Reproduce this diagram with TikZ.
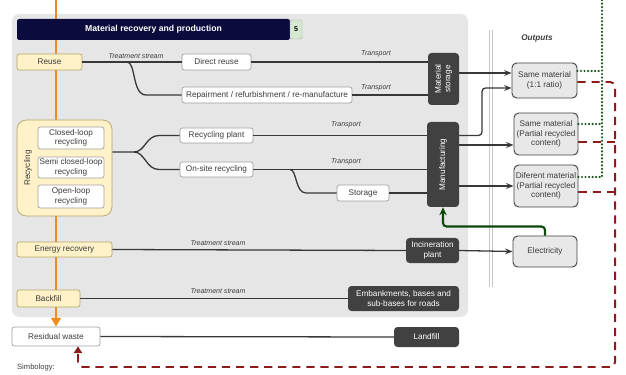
\documentclass[tikz,border=0pt]{standalone}
\usepackage{fontspec}
\setmainfont{Liberation Sans}
\usepackage{tikz}
\usetikzlibrary{arrows.meta,calc}
\definecolor{mrPanel}{HTML}{E6E6E6}
\definecolor{mrNavy}{HTML}{0B0B3D}
\definecolor{mrStage}{HTML}{FFF2C8}
\definecolor{mrStageLine}{HTML}{B3A36C}
\definecolor{mrDark}{HTML}{414141}
\definecolor{mrLine}{HTML}{383838}
\definecolor{mrText}{HTML}{3C3C3C}
\definecolor{mrOut}{HTML}{E8E8E8}
\definecolor{mrOrange}{HTML}{F08A1C}
\definecolor{mrRed}{HTML}{8C1C1C}
\definecolor{mrGreen}{HTML}{1A541A}
\definecolor{mrDeepGreen}{HTML}{0B4A0B}
\definecolor{mrTag}{HTML}{D6E9D0}
\newcommand{\stream}{Treatment stream}
\newcommand{\transp}{Transport}
\newcommand{\partRec}{(Partial recycled\\content)}
\newcommand{\pxw}{0.03cm}
\tikzset{wh/.style 2 args={minimum width=#1*\pxw, minimum height=#2*\pxw}}

\begin{document}
\begin{tikzpicture}[
  x=0.03cm, y=-0.03cm,
  font=\fontsize{7}{8}\selectfont,
  stage/.style={draw=mrStageLine, fill=mrStage, line width=0.6pt,
    rounded corners=2pt, inner sep=0pt, align=center, text=mrText},
  proc/.style={draw=gray!75, fill=white, line width=0.6pt,
    rounded corners=2pt, inner sep=0pt, align=center, text=mrText},
  plant/.style={fill=mrDark, text=white, rounded corners=3pt,
    inner sep=0pt, align=center},
  outbox/.style={draw=mrDark, fill=mrOut, line width=0.8pt,
    rounded corners=4pt, inner sep=0pt, align=center, text=mrText},
  flow/.style={draw=mrLine, line width=1.1pt},
  into/.style={flow, -{Stealth[length=2.2mm,width=1.7mm]}},
  lbl/.style={font=\fontsize{6}{7}\selectfont\itshape, text=mrText},
  recyc/.style={draw=mrRed, line width=1.7pt, dash pattern=on 7pt off 5pt},
  reuseflow/.style={draw=mrGreen, line width=2.1pt, line cap=round,
    dash pattern=on 0pt off 3pt}
]
\clip (0,0) rectangle (626,375);
\useasboundingbox (0,0) rectangle (626,375);

% ---- background -----------------------------------------------------------
\fill[mrPanel, rounded corners=6pt] (12,14) rectangle (468,317);
\draw[draw=gray!45, line width=0.5pt, double=white, double distance=2pt]
  (491,30) -- (491,287);

% ---- waste hierarchy --------------------------------------------------------
\node[proc, wh={88}{19}] (residual) at (56,336.5) {Residual waste};
\coordinate (hierTop) at (56,0);
\draw[mrOrange, line width=2.4pt, -{Triangle[length=2.6mm,width=2.8mm]}]
  (hierTop) -- (residual.north);

\node[fill=mrNavy, text=white, rounded corners=2pt, wh={273}{21},
  font=\fontsize{7.4}{8}\selectfont\bfseries] (title) at (153.5,29.5)
  {Material recovery and production};
\node[draw=gray!70, fill=mrTag, rounded corners=1pt, wh={12}{19}, inner sep=0pt,
  font=\fontsize{6}{7}\selectfont\bfseries] (tag) at (296,29.5) {5};

\node[stage, wh={65}{16}] (reuse) at (49.5,62) {Reuse};
\node[stage, wh={95}{96}, rounded corners=8pt] (recgroup) at (64.5,168) {};
\node[rotate=90, text=mrText] (reclbl) at (28,168) {Recycling};
\node[proc, wh={66}{22}] (closed) at (71,138) {Closed-loop\\recycling};
\node[proc, wh={66}{21}] (semi) at (71,167.5) {Semi closed-loop\\recycling};
\node[proc, wh={66}{23}] (open) at (71,196.5) {Open-loop\\recycling};
\node[stage, wh={95}{15}] (energy) at (64.5,249.5) {Energy recovery};
\node[stage, wh={63}{17}] (backfill) at (48.5,298.5) {Backfill};

% ---- treatment ---------------------------------------------------------------
\node[proc, wh={69}{16}] (direct) at (216.5,62) {Direct reuse};
\node[proc, wh={170}{16}] (repair) at (267,95)
  {Repairment / refurbishment / re-manufacture};
\node[proc, wh={73}{15}] (recplant) at (216.5,135.5) {Recycling plant};
\node[proc, wh={73}{15}] (onsite) at (216.5,169.5) {On-site recycling};
\node[proc, wh={52}{16}] (storage) at (363,193) {Storage};

% rotated boxes: north = left side, south = right side, west = bottom
\node[plant, wh={52}{31}, rotate=90] (mstore) at (443.5,79) {Material\\storage};
\node[plant, wh={85}{32}, rotate=90] (manuf) at (443,164.5) {Manufacturing};
\node[plant, wh={53}{25}] (incin) at (432.5,250.5) {Incineration\\plant};
\node[plant, wh={111}{25}] (embank) at (403.5,298.5)
  {Embankments, bases and\\sub-bases for roads};
\node[plant, wh={65}{20}] (landfill) at (426.5,337) {Landfill};

% ---- outputs ----------------------------------------------------------------
\node[font=\fontsize{7}{8}\selectfont\bfseries\itshape, text=mrText] (outlbl)
  at (537,38) {Outputs};
\node[outbox, wh={65}{35}] (same11) at (544.5,80.5) {Same material\\(1:1 ratio)};
\node[outbox, wh={64}{42}] (samepart) at (546,134) {Same material\\\partRec};
\node[outbox, wh={64}{42}] (diff) at (546,186) {Diferent material\\\partRec};
\node[outbox, wh={64}{31}] (elec) at (545,251.5) {Electricity};

% ---- connectors -------------------------------------------------------------
\coordinate (reuseSplit) at (127,62);
\draw[flow] (reuse.east) -- (direct.west);
\draw[flow] (reuseSplit) .. controls (136,62) and (132,95) .. (146,95) -- (repair.west);
\node[lbl] (lblA) at (136,56) {\stream};
\draw[flow] (direct.east) -- (mstore.north |- direct);
\draw[flow] (repair.east) -- (mstore.north |- repair);
\node[lbl] (lblB) at (376,54) {\transp};
\node[lbl] (lblC) at (376,88) {\transp};
\draw[into] (mstore.south |- 0,73) -- (same11.west |- 0,73);

\coordinate (recSplit) at (134,152);
\draw[flow] (recgroup.east |- recSplit) -- (recSplit)
  .. controls (145,152) and (146,135.5) .. (159,135.5) -- (recplant.west);
\draw[flow] (recSplit)
  .. controls (145,152) and (146,169.5) .. (159,169.5) -- (onsite.west);
\draw[flow] (recplant.east) -- (manuf.north |- recplant);
\draw[flow] (onsite.east) -- (manuf.north |- onsite);
\node[lbl] (lblD) at (346,125) {\transp};
\node[lbl] (lblE) at (346,162) {\transp};
\coordinate (siteSplit) at (290,169.5);
\draw[flow] (siteSplit) .. controls (297,169.5) and (295,193) .. (306,193) -- (storage.west);
\draw[flow] (storage.east) -- (manuf.north |- storage);
\draw[into, rounded corners=3pt] (manuf.south |- recplant) -- (482,135.5)
  -- (482,88) -- (same11.west |- 0,88);
\draw[into] (manuf.south |- 0,145) -- (samepart.west |- 0,145);
\draw[into] (manuf.south |- diff) -- (diff.west);

\draw[flow] (energy.east) -- (incin.west);
\node[lbl] (lblF) at (218,243) {\stream};
\draw[into] (incin.east) -- (elec.west);
\draw[draw=mrDeepGreen, line width=1.8pt, rounded corners=3pt,
  -{Stealth[length=2.4mm,width=2.2mm]}]
  (elec.north) -- ++(0,-9) -| (manuf.west);
\draw[flow] (backfill.east) -- (embank.west);
\node[lbl] (lblG) at (218,291) {\stream};
\draw[flow] (residual.east) -- (landfill.west);

% ---- loops back -------------------------------------------------------------
\coordinate (dotTop) at (602,0);
\draw[reuseflow] (diff.east |- 0,177) -| (dotTop);
\draw[reuseflow] (samepart.east |- 0,124) -- (dotTop |- 0,124);
\draw[reuseflow] (same11.east |- 0,71) -- (dotTop |- 0,71);

\draw[recyc, rounded corners=4pt, -{Triangle[length=2mm,width=2.4mm]}]
  (same11.east |- 0,82) -| (615,367) -| ($(residual.south)+(22,0)$);
\draw[recyc, rounded corners=3pt] (samepart.east |- 0,142) -- (615,142);
\draw[recyc, rounded corners=3pt] (diff.east |- 0,192) -- (615,192);

\node[anchor=south west, font=\fontsize{6.5}{7}\selectfont, text=mrText]
  (simb) at (13,375) {Simbology:};
\end{tikzpicture}
\end{document}
